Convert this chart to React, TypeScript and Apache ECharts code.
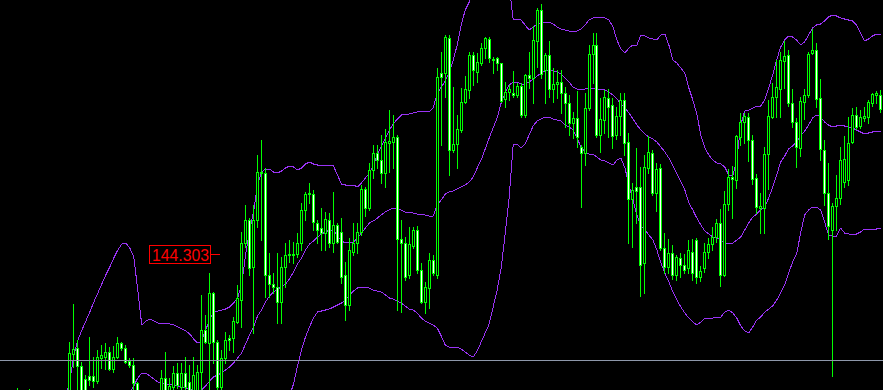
import React, { useEffect, useRef } from "react";
import * as echarts from "echarts";

// OHLC per bar (oldest -> newest), prices
const opens = [
  142.75,142.83,142.77,142.86,142.90,142.81,142.75,142.85,142.91,142.80,142.73,142.81,142.75,142.84,142.88,142.79,142.86,
  142.89,143.31,143.37,143.19,143.06,143.09,143.09,143.04,143.27,143.28,143.33,143.16,143.28,143.42,143.37,143.24,143.20,143.02,142.90,142.80,142.87,142.77,142.85,142.90,143.07,142.90,142.98,143.12,142.98,143.12,143.03,142.92,142.95,
  143.13,143.55,143.42,143.92,143.43,142.98,143.27,143.47,143.47,143.63,143.85,144.42,144.65,144.18,144.65,145.13,145.12,144.10,144.01,143.98,143.83,144.18,144.30,144.31,144.31,144.42,144.75,144.91,144.91,144.62,144.57,144.52,144.65,144.42,144.60,144.53,144.10,143.80,144.33,144.42,144.53,144.96,144.77,145.15,145.32,145.25,145.12,145.42,145.43,145.48,
  144.46,144.42,144.10,144.39,144.55,144.15,143.83,143.97,144.25,144.10,146.12,146.12,146.47,145.35,145.41,145.55,145.83,145.95,146.30,146.13,146.22,146.37,146.46,146.25,146.27,146.22,145.86,145.93,145.92,145.90,145.99,145.70,146.10,146.07,146.44,146.75,146.15,146.30,145.96,146.01,146.03,145.92,145.82,145.62,145.67,145.38,145.32,145.77,146.31,146.40,
  145.50,145.65,145.87,145.80,145.50,145.69,145.85,145.43,144.86,144.98,144.98,144.22,145.17,145.32,144.92,145.17,144.37,144.18,144.32,144.10,144.27,144.20,144.17,144.33,144.45,144.08,144.17,144.33,144.41,144.48,144.62,144.10,144.81,145.08,145.05,145.48,145.63,145.68,145.45,145.07,144.77,144.77,145.31,145.68,145.88,145.96,146.24,146.30,145.82,145.63,
  145.37,145.83,145.90,146.32,146.35,145.87,145.35,144.92,144.55,144.79,144.87,145.03,145.05,145.43,145.70,145.59,145.67,145.68,145.82,145.90,145.90,
];
const highs = [
  142.89,142.87,142.91,142.93,142.97,142.85,142.89,142.96,142.93,142.84,142.86,142.87,142.89,142.92,142.93,142.91,142.93,
  143.43,143.81,143.45,143.23,143.10,143.48,143.28,143.35,143.40,143.42,143.38,143.39,143.48,143.43,143.40,143.27,143.27,143.03,142.93,142.91,142.92,142.89,142.93,143.15,143.33,143.07,143.19,143.22,143.22,143.28,143.20,143.28,143.20,
  143.90,143.70,144.12,143.93,143.45,143.35,143.53,143.50,143.68,144.00,144.53,144.80,144.67,144.80,145.30,145.45,145.17,144.32,144.12,144.32,144.28,144.42,144.45,144.43,144.52,144.82,144.93,145.02,144.95,144.65,144.77,144.73,144.72,144.93,144.62,144.67,144.23,144.47,144.62,144.62,145.00,144.98,145.22,145.40,145.40,145.50,145.56,145.75,145.70,145.50,
  144.65,144.48,144.58,144.58,144.59,144.22,144.03,144.32,144.30,146.17,146.33,146.50,146.50,145.98,145.70,145.97,146.09,146.33,146.33,146.32,146.42,146.48,146.48,146.28,146.28,146.22,146.03,146.00,146.14,146.02,146.02,146.11,146.33,146.59,146.77,146.81,146.32,146.44,146.17,146.15,146.15,145.98,145.90,145.73,145.94,145.40,145.92,146.40,146.52,146.52,
  145.87,145.95,145.96,145.87,145.78,145.92,145.92,145.52,145.02,145.37,145.18,145.30,145.49,145.35,145.22,145.21,144.52,144.46,144.40,144.30,144.32,144.31,144.45,144.46,144.47,144.19,144.42,144.47,144.58,144.66,144.76,144.94,145.16,145.19,145.50,145.72,145.72,145.72,145.50,145.11,144.92,145.38,145.85,146.02,146.25,146.33,146.44,146.35,145.96,145.67,
  145.88,145.96,146.33,146.56,146.42,146.06,145.45,145.22,144.82,145.10,145.38,145.49,145.68,145.77,145.78,145.75,145.78,145.85,145.92,145.94,145.95,
];
const lows = [
  142.71,142.73,142.74,142.81,142.77,142.70,142.72,142.82,142.77,142.67,142.69,142.71,142.72,142.79,142.75,142.76,142.83,
  142.87,143.18,142.90,142.87,142.85,143.00,142.98,143.02,143.17,143.16,143.15,143.13,143.27,143.35,143.22,143.18,142.96,142.85,142.75,142.77,142.73,142.74,142.81,142.85,142.87,142.88,142.95,142.97,142.96,142.95,142.89,142.89,142.92,
  142.93,143.42,142.93,143.22,142.93,142.93,143.22,143.35,143.33,143.62,143.58,144.38,144.10,143.52,144.58,144.45,143.88,143.88,143.92,143.62,143.62,143.98,144.23,144.22,144.28,144.35,144.65,144.82,144.55,144.42,144.35,144.35,144.38,144.33,144.42,144.02,143.65,143.75,144.30,144.32,144.50,144.69,144.75,145.07,145.17,145.02,144.98,145.13,145.17,143.75,
  143.73,144.05,144.07,144.37,144.12,143.82,143.72,143.77,144.10,144.07,145.40,145.88,145.10,145.33,145.17,145.53,145.82,145.87,146.00,146.03,146.20,146.27,146.23,146.12,146.15,145.83,145.78,145.85,145.88,145.88,145.68,145.68,145.97,145.82,146.18,146.07,145.82,145.88,145.83,145.87,145.72,145.58,145.50,145.47,145.38,144.78,145.20,145.75,146.02,145.48,
  145.33,145.52,145.48,145.37,145.46,145.50,145.30,144.42,144.38,144.62,143.89,143.92,145.12,144.90,144.74,144.35,144.12,144.12,144.06,144.05,144.08,144.12,144.12,144.05,144.02,144.04,144.13,144.27,144.35,144.43,143.99,144.09,144.75,144.67,144.97,145.40,145.42,145.24,145.01,144.72,144.52,144.52,144.96,145.67,145.68,145.68,145.97,145.79,145.58,145.18,
  145.29,145.66,145.88,146.31,145.78,145.25,144.80,144.46,143.09,144.55,144.81,144.98,145.00,145.42,145.56,145.57,145.64,145.62,145.79,145.82,145.73,
];
const closes = [
  142.83,142.77,142.86,142.90,142.81,142.75,142.85,142.91,142.80,142.73,142.81,142.75,142.84,142.88,142.79,142.86,142.89,
  143.32,143.36,143.19,142.93,142.90,143.05,143.04,143.28,143.30,143.33,143.16,143.28,143.42,143.37,143.23,143.20,143.02,142.90,142.80,142.87,142.77,142.85,142.90,143.07,142.90,142.99,143.12,143.00,143.12,142.98,142.92,143.10,143.13,
  143.55,143.43,143.92,143.43,142.98,143.27,143.45,143.45,143.64,143.87,144.42,144.65,144.17,144.65,145.13,145.12,144.10,144.01,143.98,143.83,144.18,144.30,144.31,144.30,144.42,144.75,144.91,144.92,144.63,144.55,144.52,144.66,144.42,144.60,144.43,144.08,143.80,144.35,144.42,144.53,144.96,144.77,145.15,145.32,145.25,145.12,145.43,145.44,145.48,144.46,
  144.42,144.08,144.41,144.55,144.15,143.83,143.98,144.25,144.12,146.08,146.08,146.48,145.35,145.41,145.56,145.83,145.96,146.30,146.15,146.23,146.37,146.47,146.27,146.26,146.22,145.84,145.93,145.96,145.90,145.99,145.70,146.10,146.07,146.45,146.75,146.11,146.30,145.96,146.01,146.03,145.92,145.82,145.62,145.67,145.48,145.32,145.77,146.31,146.40,145.50,
  145.66,145.88,145.78,145.49,145.69,145.85,145.42,144.86,144.95,144.94,144.20,145.18,145.33,144.92,145.16,144.37,144.18,144.32,144.10,144.28,144.20,144.15,144.35,144.12,144.08,144.14,144.33,144.41,144.48,144.62,144.10,144.81,145.08,145.06,145.49,145.63,145.69,145.45,145.06,144.78,144.79,145.31,145.69,145.88,145.98,146.25,146.29,145.82,145.63,145.38,
  145.84,145.90,146.31,146.35,145.86,145.36,144.92,144.59,144.79,144.87,145.25,145.26,145.42,145.70,145.58,145.68,145.69,145.83,145.91,145.92,145.76,
];

// Bollinger bands
const upperBand = [
  142.80,142.80,142.81,142.81,142.81,142.82,142.82,142.82,142.83,142.83,142.83,142.84,142.84,142.84,142.85,142.85,142.87,
  143.05,143.30,143.45,143.55,143.64,143.73,143.83,143.92,144.01,144.10,144.18,144.27,144.35,144.41,144.42,144.37,144.28,143.95,143.60,143.64,143.66,143.64,143.62,143.62,143.62,143.61,143.60,143.58,143.56,143.54,143.51,143.46,143.42,
  143.44,143.55,143.65,143.73,143.74,143.75,143.76,143.78,143.82,143.87,144.00,144.30,144.55,144.73,145.00,145.13,145.16,145.16,145.13,145.12,145.14,145.17,145.19,145.18,145.15,145.17,145.21,145.23,145.21,145.20,145.20,145.20,145.20,145.19,145.10,145.01,145.00,145.00,145.00,144.98,145.02,145.07,145.12,145.20,145.30,145.39,145.47,145.55,145.61,145.66,
  145.70,145.71,145.71,145.72,145.73,145.74,145.74,145.73,145.77,145.92,145.98,146.04,146.13,146.25,146.40,146.60,146.75,146.83,146.93,147.03,147.10,147.15,147.18,147.18,147.17,147.13,147.07,147.00,146.66,146.66,146.65,146.60,146.55,146.58,146.61,146.62,146.63,146.63,146.61,146.58,146.56,146.55,146.54,146.54,146.54,146.56,146.60,146.65,146.67,146.68,
  146.68,146.67,146.65,146.58,146.45,146.36,146.32,146.37,146.40,146.40,146.50,146.49,146.47,146.46,146.45,146.50,146.51,146.40,146.25,146.22,146.17,146.12,145.97,145.85,145.71,145.50,145.37,145.30,145.25,145.22,145.21,145.18,145.10,145.09,145.25,145.60,145.74,145.75,145.77,145.79,145.79,145.85,145.97,146.10,146.25,146.38,146.45,146.49,146.48,146.45,
  146.40,146.43,146.50,146.57,146.60,146.61,146.64,146.68,146.70,146.69,146.67,146.66,146.65,146.64,146.60,146.52,146.44,146.46,146.49,146.51,146.51,
];
const middleBand = [
  142.63,142.63,142.64,142.64,142.64,142.65,142.65,142.65,142.66,142.66,142.66,142.67,142.67,142.67,142.68,142.68,142.69,
  142.71,142.73,142.74,142.75,142.76,142.77,142.78,142.79,142.80,142.81,142.82,142.83,142.84,142.85,142.86,
  142.92,142.99,143.07,143.12,143.12,143.09,143.06,143.03,143.02,143.01,143.01,143.00,142.99,142.98,142.97,142.96,142.94,142.93,
  142.95,142.99,143.04,143.08,143.10,143.12,143.15,143.18,143.22,143.27,143.32,143.41,143.50,143.58,143.69,143.75,143.83,143.89,143.93,143.96,143.98,144.01,144.06,144.13,144.21,144.27,144.35,144.41,144.44,144.48,144.51,144.53,144.55,144.55,144.49,144.44,144.42,144.43,144.43,144.47,144.52,144.57,144.62,144.64,144.67,144.70,144.73,144.75,144.77,144.76,
  144.75,144.73,144.73,144.72,144.71,144.71,144.70,144.69,144.69,144.80,144.85,144.91,144.93,144.94,144.96,144.98,145.00,145.03,145.08,145.17,145.25,145.36,145.47,145.57,145.67,145.82,145.92,146.00,146.03,146.03,146.01,146.01,146.03,146.06,146.09,146.12,146.14,146.15,146.14,146.13,146.11,146.07,146.03,145.98,145.96,145.95,145.96,145.97,145.97,145.96,
  145.96,145.95,145.93,145.90,145.86,145.81,145.77,145.72,145.66,145.60,145.55,145.51,145.48,145.46,145.43,145.38,145.33,145.27,145.19,145.11,145.03,144.95,144.82,144.75,144.67,144.60,144.54,144.51,144.48,144.47,144.45,144.42,144.41,144.42,144.45,144.48,144.55,144.62,144.68,144.71,144.75,144.78,144.87,144.98,145.10,145.23,145.29,145.36,145.39,145.43,
  145.49,145.54,145.60,145.67,145.70,145.68,145.63,145.60,145.58,145.59,145.60,145.59,145.58,145.57,145.55,145.53,145.51,145.52,145.53,145.54,145.53,
];
const lowerBand = [
  142.45,142.45,142.46,142.46,142.46,142.47,142.47,142.47,142.48,142.48,142.48,142.49,142.49,142.49,142.50,142.50,142.51,
  142.37,142.16,142.03,141.95,141.88,141.81,141.73,141.66,141.59,141.52,141.46,141.39,141.33,141.29,141.30,
  141.47,141.70,142.19,142.64,142.60,142.52,142.48,142.44,142.42,142.40,142.41,142.40,142.40,142.40,142.40,142.41,142.42,142.44,
  142.46,142.43,142.43,142.43,142.46,142.49,142.54,142.58,142.62,142.67,142.64,142.52,142.45,142.43,142.38,142.37,142.50,142.62,142.73,142.80,142.82,142.85,142.89,143.01,143.19,143.35,143.48,143.58,143.67,143.73,143.74,143.75,143.76,143.78,143.80,143.82,143.85,143.90,143.94,143.97,143.98,143.98,143.97,143.95,143.94,143.93,143.90,143.87,143.86,143.84,
  143.82,143.79,143.76,143.75,143.72,143.67,143.64,143.62,143.60,143.57,143.49,143.40,143.38,143.38,143.38,143.36,143.33,143.30,143.28,143.34,143.43,143.52,143.61,143.78,143.95,144.17,144.51,144.87,145.40,145.41,145.37,145.41,145.50,145.59,145.64,145.66,145.68,145.68,145.66,145.65,145.64,145.60,145.58,145.55,145.47,145.38,145.33,145.31,145.31,145.28,
  145.25,145.24,145.22,145.20,145.25,145.27,145.17,145.00,144.85,144.70,144.59,144.55,144.50,144.45,144.35,144.22,144.12,144.03,143.93,143.85,143.78,143.72,143.67,143.63,143.60,143.63,143.67,143.67,143.67,143.68,143.68,143.73,143.75,143.72,143.67,143.59,143.54,143.52,143.58,143.65,143.68,143.73,143.76,143.79,143.85,143.92,144.00,144.12,144.23,144.31,
  144.52,144.70,144.75,144.78,144.78,144.75,144.63,144.50,144.49,144.49,144.57,144.52,144.51,144.51,144.51,144.53,144.56,144.56,144.56,144.56,144.57,
];

const categories = opens.map((_, i) => String(i + 1));
const horizontalLevel = 143.245;
const priceLabelText = "144.303";
const priceMin = 142.95;
const priceMax = 146.85;

const GREEN = "#00ff00";
const BAND = "#9a33f5";

export default function App() {
  const ref = useRef<HTMLDivElement>(null);
  useEffect(() => {
    document.body.style.margin = "0";
    document.body.style.background = "#000";
    const styleEl = document.createElement("style");
    styleEl.textContent = "#root svg path, #root svg rect, #root svg line { shape-rendering: crispEdges; }";
    document.head.appendChild(styleEl);

    const chart = echarts.init(ref.current as HTMLDivElement, null, { renderer: "svg" });
    const candleData = opens.map((o, i) => [i, o, closes[i], lows[i], highs[i]]);
    const band = (name: string, data: number[]) => ({
      type: "line",
      name,
      data,
      symbol: "none",
      showSymbol: false,
      silent: true,
      z: 2,
      lineStyle: { color: BAND, width: 1 },
    });
    const px = (x: number, y: number, w: number, h: number, fill: string) => ({
      type: "rect",
      shape: { x, y, width: w, height: h },
      style: { fill, stroke: null },
    });
    chart.setOption({
      animation: false,
      backgroundColor: "#000000",
      grid: { left: -1.5, top: 0, width: 884, height: 390 },
      xAxis: { type: "category", data: categories, show: false, boundaryGap: true },
      yAxis: { type: "value", min: priceMin, max: priceMax, show: false, splitLine: { show: false } },
      series: [
        band("Upper", upperBand),
        band("Middle", middleBand),
        band("Lower", lowerBand),
        {
          type: "custom",
          name: "Price",
          data: candleData,
          z: 3,
          clip: true,
          encode: { x: 0, y: [1, 2, 3, 4] },
          renderItem: (params: any, api: any) => {
            const i = api.value(0);
            const o = api.value(1);
            const c = api.value(2);
            const l = api.value(3);
            const h = api.value(4);
            const pO = api.coord([i, o]);
            const pC = api.coord([i, c]);
            const pL = api.coord([i, l]);
            const pH = api.coord([i, h]);
            const col = Math.floor(pO[0] + 0.01);
            const top = Math.round(Math.min(pO[1], pC[1]));
            const bot = Math.round(Math.max(pO[1], pC[1]));
            const hi = Math.min(Math.round(pH[1]), top);
            const lo = Math.max(Math.round(pL[1]), bot);
            const bull = c > o;
            const bh = bot - top + 1;
            const children: any[] = [];
            // wick above and below the body (non-overlapping pieces)
            if (top - hi > 0) children.push(px(col, hi, 1, top - hi, GREEN));
            if (lo - bot > 0) children.push(px(col, bot + 1, 1, lo - bot, GREEN));
            // body outline
            children.push(px(col - 1, top, 1, bh, GREEN));
            children.push(px(col + 1, top, 1, bh, GREEN));
            children.push(px(col, top, 1, 1, GREEN));
            if (bot > top) children.push(px(col, bot, 1, 1, GREEN));
            // body interior
            if (bot - top >= 2) {
              children.push(px(col, top + 1, 1, bot - top - 1, bull ? "#000000" : "#ffffff"));
            }
            return { type: "group", children };
          },
        },
        {
          type: "line",
          name: "level",
          data: [],
          z: 5,
          markLine: {
            silent: true,
            symbol: ["none", "none"],
            label: { show: false },
            lineStyle: { color: "#8e98aa", type: "solid", width: 1 },
            data: [{ yAxis: horizontalLevel }],
          },
        },
      ],
      graphic: [
        {
          type: "rect",
          z: 100,
          shape: { x: 149.5, y: 245.5, width: 61, height: 18 },
          style: { fill: "#000000", stroke: "#ff0000", lineWidth: 1 },
        },
        {
          type: "text",
          z: 101,
          x: 152,
          y: 255,
          scaleX: 0.93,
          style: {
            text: priceLabelText,
            fill: "#ff0000",
            font: '17px "Liberation Sans", Arial, sans-serif',
            verticalAlign: "middle",
            align: "left",
          },
        },
        {
          type: "line",
          z: 100,
          shape: { x1: 211, y1: 254.5, x2: 220, y2: 254.5 },
          style: { stroke: "#ff0000", lineWidth: 1 },
        },
      ],
    });
    return () => {
      chart.dispose();
      styleEl.remove();
    };
  }, []);
  return (
    <div
      ref={ref}
      style={{ position: "fixed", left: 0, top: 0, width: 883, height: 390, background: "#000" }}
    />
  );
}
